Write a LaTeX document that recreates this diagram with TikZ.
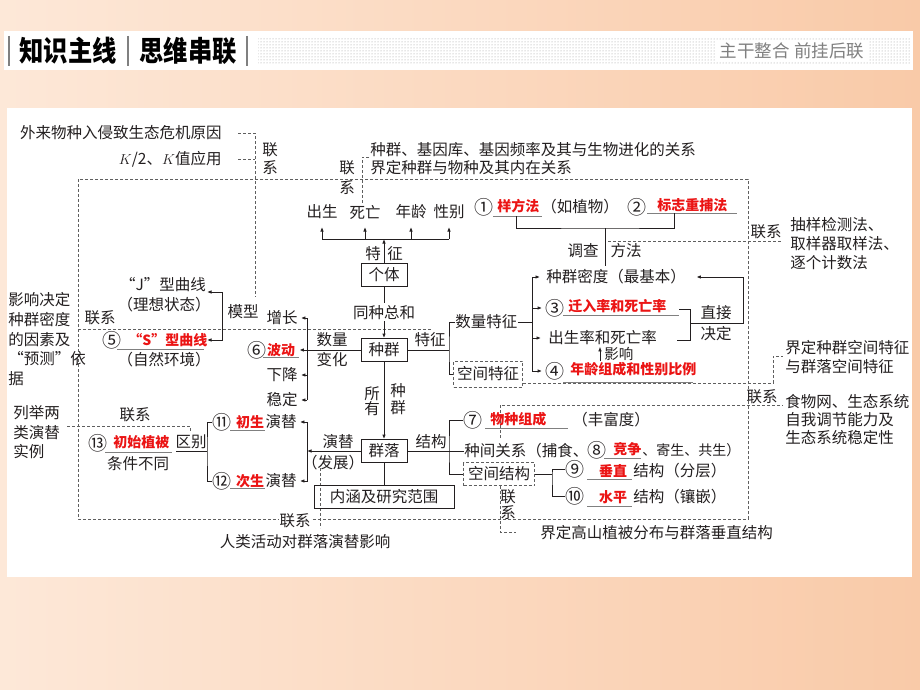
\documentclass[tikz,border=0pt]{standalone}
\usepackage{fontspec}
\newfontfamily\cjk{Noto Sans CJK SC}
\usetikzlibrary{arrows.meta,patterns}

\definecolor{ink}{RGB}{35,31,32}
\definecolor{dashgray}{RGB}{95,95,95}
\definecolor{hred}{RGB}{235,20,20}
\definecolor{peachl}{RGB}{253,232,216}
\definecolor{peachr}{RGB}{249,202,168}

\tikzset{
  every node/.style={inner sep=0pt, text=ink, font=\cjk\fontsize{15.5}{19}\selectfont},
  hl/.style={text=hred, font=\cjk\bfseries\fontsize{14}{16}\selectfont},
  circ/.style={font=\cjk\fontsize{19}{19}\selectfont},
  box/.style={draw=ink, line width=0.9pt, minimum width=46pt, minimum height=23pt},
  dbox/.style={draw=dashgray, line width=0.7pt, dash pattern=on 3pt off 2pt},
  arr/.style={-{Latex[length=4.5pt,width=3.6pt]}},
  lnkline/.style={draw=dashgray, line width=0.7pt, dash pattern=on 3pt off 2pt},
  uline/.style={draw=gray, line width=0.8pt},
  twoline/.style={align=center, font=\cjk\fontsize{15.5}{#1}\selectfont},
  block/.style={anchor=north west, align=left, font=\cjk\fontsize{15.5}{#1}\selectfont},
}

\begin{document}
\begin{tikzpicture}[x=1pt, y=-1pt, color=ink, line width=0.9pt]
\useasboundingbox (0,0) rectangle (920,690);
\shade[left color=peachl, right color=peachr] (0,0) rectangle (920,690);
\fill[white] (4,31) rectangle (913,70);
\fill[pattern=dots, pattern color=gray!80] (258,37) rectangle (910,64);
\draw[gray, line width=1.4pt] (9,36) -- (9,66);
\draw[gray, line width=1.4pt] (128,36) -- (128,66);
\draw[gray, line width=1.4pt] (247,36) -- (247,66);
\node[font=\cjk\bfseries\fontsize{27}{28}\selectfont, text=black] (title1) at (68,51) {\scalebox{0.9}[1.05]{知识主线}};
\node[font=\cjk\bfseries\fontsize{27}{28}\selectfont, text=black] (title2) at (188,51) {\scalebox{0.9}[1.05]{思维串联}};
\node[fill=white, inner xsep=4pt, inner ysep=3pt, text=gray, font=\cjk\fontsize{17.5}{19}\selectfont] (motto) at (792,51) {主干整合\hspace{5pt}前挂后联};
\fill[white] (7,108) rectangle (912,577);

\draw[lnkline] (78,179) rectangle (748,519);
\draw[lnkline] (78,329) -- (432,329);
\draw[lnkline] (67,426) -- (190,426) -- (190,431);
\draw[lnkline] (500,438) -- (500,405) -- (783,405);
\draw[lnkline] (523,383) -- (773,383) -- (773,356) -- (783,356);
\draw[lnkline] (608,241) -- (782,241);
\draw[lnkline] (320,468) -- (320,528);
\draw[lnkline] (500,486) -- (500,532) -- (516,532);
\draw[lnkline] (369,157) -- (362,157) -- (362,204);
\draw[lnkline] (238,133) -- (255,133) -- (255,297);
\draw[lnkline] (238,159) -- (255,159);

\node[anchor=east] (invade) at (222,133) {外来物种入侵致生态危机原因};
\node[anchor=east] (kval) at (222,159) {$K$/2、$K$值应用};
\node[twoline=18] (lk1) at (270,159) {联\\系};
\node[anchor=west] (evo) at (370,150) {种群、基因库、基因频率及其与生物进化的关系};
\node[anchor=west] (spec) at (370,168) {界定种群与物种及其内在关系};
\node[twoline=20] (lk2) at (347,178) {联\\系};

\node[box] (indiv) at (384,274.5) {个体};
\node (birth) at (322,212) {出生};
\node (death) at (365,212) {死亡};
\node (age) at (411,212) {年龄};
\node (sex) at (449,212) {性别};
\node (te) at (373,254) {特};
\node (zh) at (395,254) {征};
\coordinate (bar) at (384,239);
\coordinate (tip) at (384,227);
\draw[arr] (indiv) -- (bar);
\draw (birth |- bar) -- (sex |- bar);
\draw[arr] (birth |- bar) -- (birth |- tip);
\draw[arr] (death |- bar) -- (death |- tip);
\draw[arr] (age |- bar) -- (age |- tip);
\draw[arr] (sex |- bar) -- (sex |- tip);

\node[box] (pop) at (384,350) {种群};
\draw[arr] (indiv) -- node[fill=white, inner ysep=2pt] (same) {同种总和} (pop);
\node (tz) at (430,340) {特征};
\coordinate (fk) at (449,350);
\node[anchor=west] (quant) at (455,322) {数量特征};
\node[dbox, minimum width=69pt, minimum height=26pt] (spat) at (488,374) {空间特征};
\draw (pop) -- (fk);
\draw (quant.west) -| (fk) |- (spat.west);

\coordinate (qk) at (532,322);
\coordinate (qt) at (532,277);
\node[anchor=west] (dens) at (546,277) {种群密度（最基本）};
\node[circ] (c3) at (555,308) {③};
\node[hl, anchor=west] (immi) at (568,306) {迁入率和死亡率};
\draw[uline] (563,315) -- (679,315);
\node[anchor=west] (bdr) at (548,338) {出生率和死亡率};
\node[circ] (c4) at (555,371) {④};
\node[hl, anchor=west] (agestr) at (570,369) {年龄组成和性别比例};
\draw[uline] (563,382) -- (693,382);
\node[anchor=west, font=\cjk\fontsize{14.5}{16}\selectfont] (infl) at (604,354) {影响};
\draw (quant) -- (qk);
\draw (qt) -- (qk |- c4);
\draw[arr] (qt) -- ([xshift=-6pt]dens.west);
\draw[arr] (qk |- c3) -- ([xshift=-3pt]c3.west);
\draw[arr] (qk |- bdr) -- ([xshift=-7pt]bdr.west);
\draw[arr] (qk |- c4) -- ([xshift=-3pt]c4.west);
\draw[arr, line width=0.7pt] ([xshift=-4pt]infl.south west) -- ([xshift=-4pt]infl.north west);
\draw (679,309) -- (690,309) -- (690,340) -- (677,340);
\draw[arr] (690,323) -- (743,323) -- (743,277) -- ([xshift=10pt]dens.east);
\node (direct) at (716,313) {直接};
\node (decide) at (716,334) {决定};

\node[circ] (c1) at (484,207) {①};
\node[hl, anchor=west] (quad) at (497,206) {样方法};
\draw[uline] (493,216) -- (542,216);
\node[anchor=west] (plant) at (541,207) {（如植物）};
\node[circ] (c2) at (637,207) {②};
\node[hl, anchor=west] (mark) at (657,205) {标志重捕法};
\draw[uline] (647,213) -- (737,213);
\coordinate (mk) at (605,228);
\draw (516,216) |- (mk) -| (674,213);
\draw (mk) -- ([yshift=3pt]dens.north -| mk);
\node (survey) at (583,251) {调查};
\node (method) at (626,251) {方法};
\node (lk3) at (766,232) {联系};
\node[block=19] (sampling) at (790,217) {抽样检测法、\\取样器取样法、\\逐个计数法};

\node[block=19.75] (factor) at (8,292) {影响决定\\种群密度\\的因素及\\“预测”依\\据};
\node (lk4) at (100,318) {联系};
\node (jc) at (163,285) {“J”型曲线};
\node (jcs) at (164,305) {（理想状态）};
\node[circ] (c5) at (112,340) {⑤};
\node[hl, anchor=west] (sc) at (128,340) {“S”型曲线};
\draw[uline] (117,349) -- (204,349);
\node (scs) at (164,360) {（自然环境）};
\draw[{Latex[length=4.5pt,width=3.6pt]}-{Latex[length=4.5pt,width=3.6pt]}] (207,292) -- (222,292) -- (222,340) -- (207,340);
\node (model) at (243,312) {模型};

\node (grow) at (282,318) {增长};
\node[circ] (c6) at (257,350) {⑥};
\node[hl] (fluc) at (281,350) {波动};
\draw[uline] (263,357) -- (299,357);
\node (decl) at (282,375) {下降};
\node (stab) at (282,400) {稳定};
\coordinate (gk) at (307,350);
\draw[arr] (pop) -- ([xshift=4pt]fluc.east);
\draw (gk |- grow) -- (gk |- stab);
\draw[arr] (gk |- grow) -- ([xshift=3pt]grow.east);
\draw[arr] (gk |- decl) -- ([xshift=3pt]decl.east);
\draw[arr] (gk |- stab) -- ([xshift=3pt]stab.east);
\node (num) at (332,340) {数量};
\node (chg) at (332,360) {变化};

\node[box] (comm) at (384,451) {群落};
\draw[arr] (pop) -- (comm);
\node[twoline=15] (allp) at (372,401) {所\\有};
\node[twoline=17] (popp) at (398,399) {种\\群};
\node[box, minimum width=140pt] (range) at (384,497) {内涵及研究范围};
\draw (comm) -- (range);

\node[circ] (c11) at (222,422) {⑪};
\node[hl] (prim) at (250,422) {初生};
\node (yt1) at (281,422) {演替};
\draw[uline] (230,430) -- (265,430);
\node[circ] (c12) at (222,481) {⑫};
\node[hl] (seco) at (250,481) {次生};
\node (yt2) at (281,481) {演替};
\draw[uline] (230,488) -- (265,488);
\coordinate (sk) at (307,451);
\draw[arr] (comm) -- (sk);
\draw[arr] (sk) |- ([xshift=3pt]yt1.east);
\draw[arr] (sk) |- ([xshift=3pt]yt2.east);
\node (succ) at (338,442) {演替};
\node (devp) at (333,463) {（发展）};
\coordinate (qb) at (207,451);
\draw (c11.west) -| (qb) |- (c12.west);
\draw (qb) -- (176,451);
\node (diff) at (191,442) {区别};
\node[circ] (c13) at (98,443) {⑬};
\node[hl, anchor=west] (init) at (113,442) {初始植被};
\draw[uline] (105,452) -- (172,452);
\node (cond) at (138,464) {条件不同};
\node[block=19.5] (example) at (13,405) {列举两\\类演替\\实例};
\node (lk5) at (135,415) {联系};
\node[fill=white, inner xsep=1pt] (lk6) at (295,521) {联系};
\node (human) at (305,542) {人类活动对群落演替影响};

\node (struc) at (431,442) {结构};
\coordinate (sk2) at (449,451);
\node[circ] (c7) at (473,420) {⑦};
\node[hl, anchor=west] (spcomp) at (490,419) {物种组成};
\draw[uline] (485,428) -- (568,428);
\node[anchor=west] (rich) at (572,420) {（丰富度）};
\node[anchor=west] (inter) at (464,451) {种间关系（捕食、};
\node[circ] (c8) at (597,450) {⑧};
\node[hl, anchor=west] (compet) at (613,449) {竞争};
\draw[uline] (604,458) -- (641,458);
\node[anchor=west, font=\cjk\fontsize{14}{16}\selectfont] (para) at (642,450) {、寄生、共生）};
\node[dbox, minimum width=71pt, minimum height=23pt] (spst) at (499,474) {空间结构};
\draw (comm) -- (inter);
\draw (c7.west) -| (sk2) |- (spst.west);

\coordinate (vk) at (552,474);
\node[circ] (c9) at (575,469) {⑨};
\node[hl] (vert) at (613,471) {垂直};
\draw[uline] (587,479) -- (632,479);
\node[anchor=west] (layer) at (633,471) {结构（分层）};
\node[circ] (c10) at (575,496) {⑩};
\node[hl] (horiz) at (613,497) {水平};
\draw[uline] (587,506) -- (632,506);
\node[anchor=west] (mosaic) at (633,497) {结构（镶嵌）};
\draw (spst) -- (vk);
\draw (c9.west) -| (vk) |- (c10.west);
\node[twoline=16] (lk7) at (508,505) {联\\系};
\node[anchor=west] (alpine) at (540,533) {界定高山植被分布与群落垂直结构};

\node (lk8) at (762,397) {联系};
\node[block=19] (spdef) at (785,340) {界定种群空间特征\\与群落空间特征};
\node[block=18] (web) at (785,394) {食物网、生态系统\\自我调节能力及\\生态系统稳定性};
\end{tikzpicture}
\end{document}
